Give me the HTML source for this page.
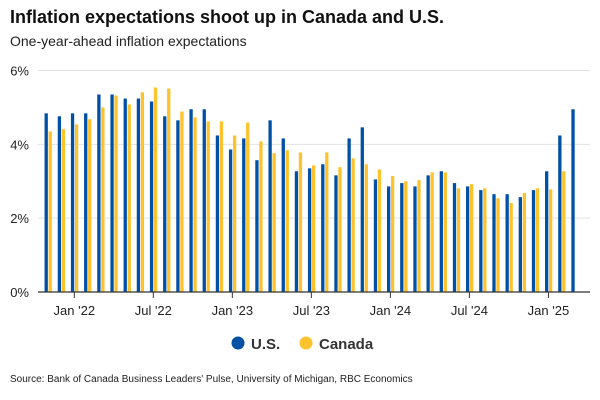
<!DOCTYPE html>
<html><head><meta charset="utf-8"><style>
body{margin:0;width:600px;height:400px;background:#fff;font-family:"Liberation Sans",sans-serif;overflow:hidden;position:relative}
.t{position:absolute;left:10px;top:7px;font-size:18px;font-weight:bold;color:#111}
.s{position:absolute;left:10px;top:33px;font-size:14px;color:#222}
.src{position:absolute;left:10px;top:374px;font-size:10px;color:#222}
</style></head><body>
<div class="t">Inflation expectations shoot up in Canada and U.S.</div>
<div class="s">One-year-ahead inflation expectations</div>
<svg id="c" width="600" height="400" style="position:absolute;left:0;top:0"></svg>
<div class="src">Source: Bank of Canada Business Leaders' Pulse, University of Michigan, RBC Economics</div>
<script>
const months = ["Nov'21","Dec'21","Jan'22","Feb'22","Mar'22","Apr'22","May'22","Jun'22","Jul'22","Aug'22","Sep'22","Oct'22","Nov'22","Dec'22","Jan'23","Feb'23","Mar'23","Apr'23","May'23","Jun'23","Jul'23","Aug'23","Sep'23","Oct'23","Nov'23","Dec'23","Jan'24","Feb'24","Mar'24","Apr'24","May'24","Jun'24","Jul'24","Aug'24","Sep'24","Oct'24","Nov'24","Dec'24","Jan'25","Feb'25","Mar'25"];
const usValues = [4.84,4.76,4.84,4.84,5.35,5.35,5.24,5.24,5.16,4.76,4.65,4.95,4.95,4.24,3.86,4.16,3.57,4.65,4.16,3.27,3.35,3.46,3.16,4.16,4.46,3.05,2.86,2.95,2.86,3.16,3.27,2.95,2.86,2.76,2.65,2.65,2.57,2.76,3.27,4.24,4.95];
const canadaValues = [4.35,4.41,4.54,4.68,5.0,5.32,5.08,5.41,5.54,5.51,4.89,4.73,4.62,4.62,4.24,4.59,4.08,3.76,3.84,3.78,3.43,3.78,3.38,3.62,3.46,3.32,3.14,3.0,3.03,3.24,3.24,2.81,2.92,2.81,2.54,2.41,2.68,2.81,2.78,3.27,null];
const yTicks = [0,2,4,6];
const xTickLabels = ["Jan '22","Jul '22","Jan '23","Jul '23","Jan '24","Jul '24","Jan '25"];
const xTickIdx = [2,8,14,20,26,32,38];

const NS="http://www.w3.org/2000/svg", svg=document.getElementById('c');
const X0=38,X1=590,Y0=292,Y6=70.5;
const y=v=>Y0-(v/6)*(Y0-Y6);
const x=i=>74.3+(i-2)*13.17;
function mk(t,a,txt){const e=document.createElementNS(NS,t);for(const k in a)e.setAttribute(k,a[k]);if(txt!=null)e.textContent=txt;svg.appendChild(e);return e;}
yTicks.forEach(v=>{
  if(v>0){const g=mk('line',{x1:X0,x2:X1,y1:y(v),y2:y(v),stroke:'#e3e3e3','stroke-width':1});
  
  }
  const t=mk('text',{x:29,y:y(v)+5,'text-anchor':'end','font-size':13,fill:'#222'},v+'%');
  
  
});
months.forEach((m,i)=>{
  const cx=x(i);
  if(usValues[i]!=null){const r=mk('rect',{x:cx-3.4,y:y(usValues[i]),width:3.3,height:Y0-y(usValues[i]),fill:'#0051a5'});
  
  }
  if(canadaValues[i]!=null){const r=mk('rect',{x:cx+0.6,y:y(canadaValues[i]),width:3.3,height:Y0-y(canadaValues[i]),fill:'#fec22d'});
  
  }
});
const ax=mk('line',{x1:X0,x2:X1,y1:Y0,y2:Y0,stroke:'#333','stroke-width':1.3});


xTickIdx.forEach((idx,k)=>{
  const cx=x(idx);
  const l=mk('line',{x1:cx,x2:cx,y1:Y0,y2:Y0+6,stroke:'#333','stroke-width':1});
  
  
  const t=mk('text',{x:cx,y:315,'text-anchor':'middle','font-size':13,fill:'#222'},xTickLabels[k]);
  
  
});
[["U.S.","#0051a5",238],["Canada","#fec22d",306]].forEach(([n,c,lx])=>{
  const ci=mk('circle',{cx:lx,cy:343,r:6.5,fill:c});
  
  
  const t=mk('text',{x:lx+13,y:349,'font-size':15,'font-weight':'bold',fill:'#333'},n);
  
  
});
</script>
</body></html>
